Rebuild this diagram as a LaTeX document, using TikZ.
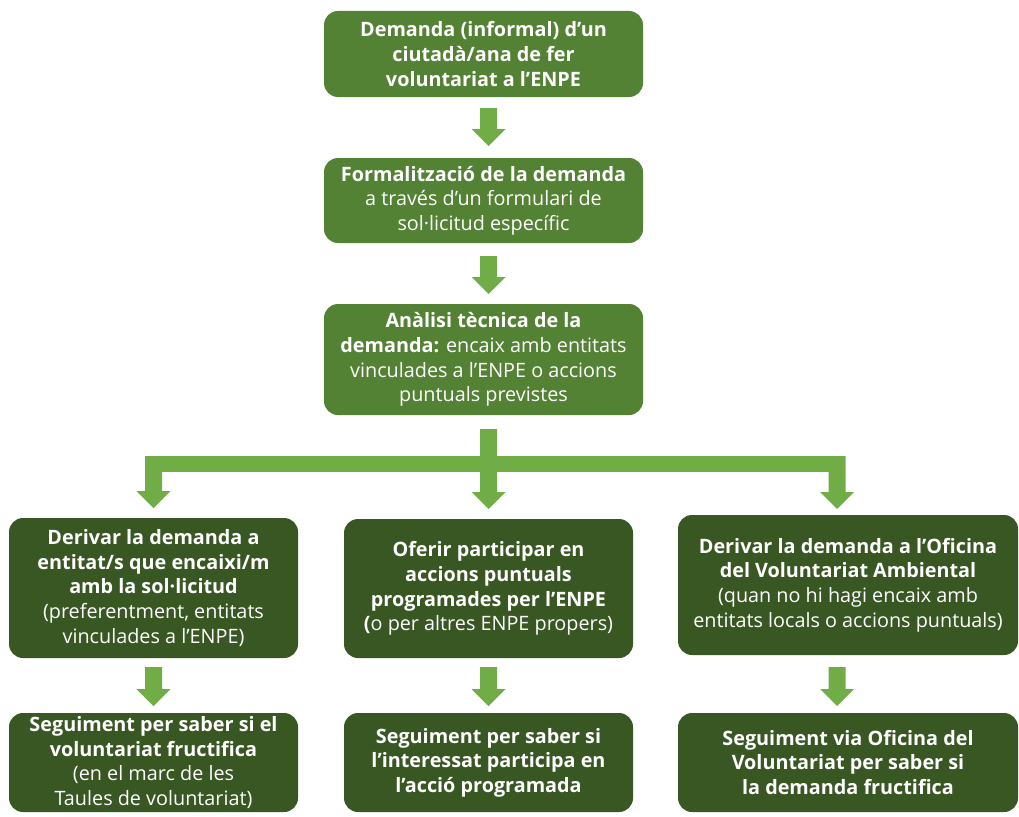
\documentclass[tikz,border=0pt]{standalone}
\usepackage{fontspec}
\setmainfont{Open Sans}
\definecolor{topgreen}{HTML}{548235}
\definecolor{darkgreen}{HTML}{385723}
\definecolor{arrowgreen}{HTML}{70AD47}
\newcommand\bld[1]{{\bfseries #1}}
\newcommand\blockarrow[3]{% x center, y top, y tip
  \fill[arrowgreen] (#1-8.5,#2) -- (#1+8.5,#2) -- (#1+8.5,#3-17) -- (#1+17,#3-17)
    -- (#1,#3) -- (#1-17,#3-17) -- (#1-8.5,#3-17) -- cycle;}
\begin{document}
\begin{tikzpicture}[x=1pt,y=-1pt,
  box/.style={rectangle, rounded corners=14pt, inner sep=0pt, text=white, align=center,
    font=\fontsize{19.8}{24.6}\selectfont},
  topbox/.style={box, fill=topgreen},
  lowbox/.style={box, fill=darkgreen}]
\useasboundingbox (0,0) rectangle (1019,816);
\begin{scope}
\clip (0,0) rectangle (1019,816);
\node[topbox, minimum width=319pt, minimum height=86pt] (b1) at (483.5,54)
  {\bld{Demanda (informal) d’un}\\\bld{ciutadà/ana de fer}\\\bld{voluntariat a l’ENPE}};
\node[topbox, minimum width=319pt, minimum height=85pt] (b2) at (483.5,200.5)
  {\bld{Formalització de la demanda}\\a través d’un formulari de\\sol·licitud específic};
\node[topbox, minimum width=319pt, minimum height=111pt] (b3) at (483.5,359.5)
  {\bld{Anàlisi tècnica de la}\\\bld{demanda:} encaix amb entitats\\vinculades a l’ENPE o accions\\puntuals previstes};
\node[lowbox, minimum width=289pt, minimum height=140pt] (l1) at (153.5,588)
  {\bld{Derivar la demanda a}\\\bld{entitat/s que encaixi/m}\\\bld{amb la sol·licitud}\\(preferentment, entitats\\vinculades a l’ENPE)};
\node[lowbox, minimum width=289pt, minimum height=139pt] (m1) at (488.5,588.5)
  {\bld{Oferir participar en}\\\bld{accions puntuals}\\\bld{programades per l’ENPE}\\\bld{(}o per altres ENPE propers)};
\node[lowbox, minimum width=340pt, minimum height=140pt] (r1) at (848,585)
  {\bld{Derivar la demanda a l’Oficina}\\\bld{del Voluntariat Ambiental}\\(quan no hi hagi encaix amb\\entitats locals o accions puntuals)};
\node[lowbox, minimum width=289pt, minimum height=99pt] (l2) at (153.5,762.5)
  {\bld{Seguiment per saber si el}\\\bld{voluntariat fructifica}\\(en el marc de les\\Taules de voluntariat)};
\node[lowbox, minimum width=289pt, minimum height=99pt] (m2) at (488.5,762.5)
  {\bld{Seguiment per saber si}\\\bld{l’interessat participa en}\\\bld{l’acció programada}};
\node[lowbox, minimum width=340pt, minimum height=99pt] (r2) at (848,762.5)
  {\bld{Seguiment via Oficina del}\\\bld{Voluntariat per saber si}\\\bld{la demanda fructifica}};
\end{scope}
% vertical arrows between boxes
\blockarrow{488.5}{108}{146}
\blockarrow{488.5}{256}{294}
\blockarrow{153.5}{667}{706}
\blockarrow{488.5}{667}{706}
\blockarrow{837}{667}{706}
% branching connector
\fill[arrowgreen] (145,456) rectangle (845,472);
\blockarrow{488.5}{429}{509}
\blockarrow{153.5}{456}{508}
\blockarrow{837}{456}{509}
\end{tikzpicture}
\end{document}
